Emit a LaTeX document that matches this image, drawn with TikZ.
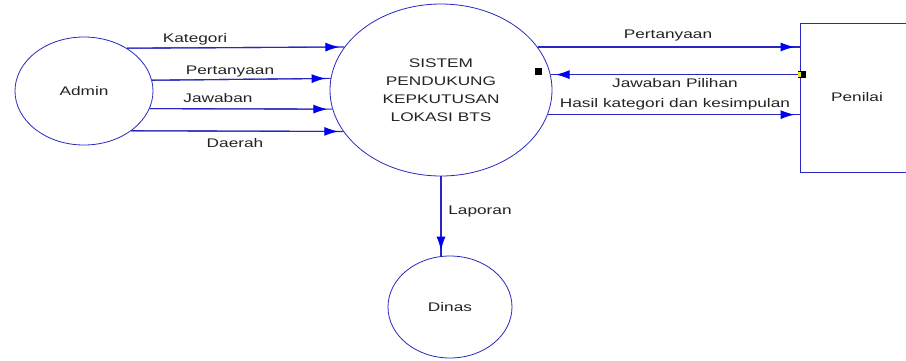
\documentclass[tikz,border=0pt]{standalone}
\usepackage{fontspec}
\setmainfont{Liberation Sans}
\usetikzlibrary{arrows.meta,shapes.geometric}
\definecolor{linecol}{RGB}{40,40,190}
\definecolor{headcol}{RGB}{0,0,245}
\definecolor{txtcol}{RGB}{35,35,35}
\definecolor{handle}{RGB}{235,225,40}
% horizontally widened text
\newcommand{\wtx}[1]{\scalebox{1.38}[1]{#1}}
\begin{document}
\begin{tikzpicture}[x=1pt,y=-1pt,
  every node/.style={text=txtcol,font=\fontsize{12.5}{18}\selectfont},
  proc/.style={ellipse,draw=linecol,line width=0.8pt,inner sep=0pt,align=center},
  ent/.style={rectangle,draw=linecol,line width=0.8pt,inner sep=0pt},
  lbl/.style={inner sep=0pt},
  flow/.style={draw=linecol,line width=1.1pt,
    -{Latex[length=14pt,width=9pt,color=headcol]},shorten >=5pt,
    preaction={draw=linecol,line width=1.1pt,-,shorten >=0pt}}
]
\useasboundingbox (0,0) rectangle (906,360);
\clip (0,0) rectangle (906,360);
\fill[white] (0,0) rectangle (906,360);

% processes and entities
\node[proc,minimum width=138pt,minimum height=108pt] (admin) at (84,91) {\wtx{Admin}};
\node[proc,minimum width=222pt,minimum height=172pt] (sys) at (441,90)
  {\wtx{SISTEM}\\\wtx{PENDUKUNG}\\\wtx{KEPKUTUSAN}\\\wtx{LOKASI BTS}};
\node[proc,minimum width=124pt,minimum height=102pt] (dinas) at (450,307) {\wtx{Dinas}};
\node[ent,minimum width=116pt,minimum height=149pt] (pen) at (858,97.5) {};
\node[lbl] (penlbl) at (857,97) {\wtx{Penilai}};

% data flows from Admin
\draw[flow] (admin.45.5) -- (sys.156.57);
\draw[flow] (admin.9.24) -- (sys.174.82);
\draw[flow] (admin.-15.46) -- (sys.-170.05);
\draw[flow] (admin.-40.76) -- (sys.-157.21);

% data flows with Penilai
\draw[flow] (sys.24.10) -- (sys.24.10 -| pen.west);
\draw[flow] (pen.west |- sys.8.88) -- (sys.8.88);
\draw[flow] (sys.-13.25) -- (sys.-13.25 -| pen.west);

% report to Dinas
\draw[flow] (sys.south) -- (sys.south |- dinas.north);

% flow labels
\node[lbl] (l1) at (195,39) {\wtx{Kategori}};
\node[lbl] (l2) at (230,71) {\wtx{Pertanyaan}};
\node[lbl] (l3) at (218,98) {\wtx{Jawaban}};
\node[lbl] (l4) at (235,143) {\wtx{Daerah}};
\node[lbl] (l5) at (668,35) {\wtx{Pertanyaan}};
\node[lbl] (l6) at (675,83) {\wtx{Jawaban Pilihan}};
\node[lbl] (l7) at (675,104) {\wtx{Hasil kategori dan kesimpulan}};
\node[lbl] (l8) at (480,211) {\wtx{Laporan}};

% selection handles
\fill[black] (534.5,67.5) rectangle (541.5,74.5);
\fill[black] (798,71) rectangle (806,78);
\fill[handle] (798,72) rectangle (800.5,77);
\end{tikzpicture}
\end{document}
